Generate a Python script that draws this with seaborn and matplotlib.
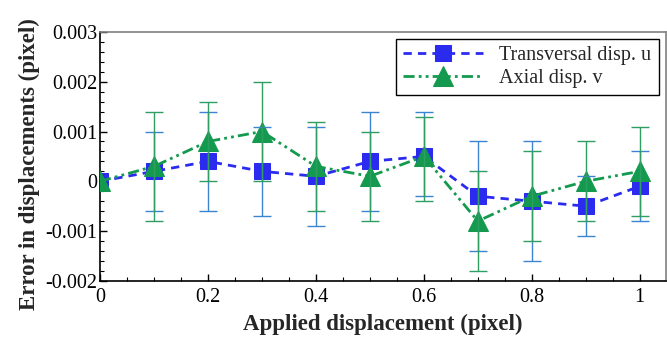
import numpy as np
import pandas as pd
import matplotlib
matplotlib.use("Agg")
import matplotlib.pyplot as plt
import seaborn as sns
from matplotlib.ticker import MultipleLocator, FuncFormatter

# ---- data ----
disp = [0.0, 0.1, 0.2, 0.3, 0.4, 0.5, 0.6, 0.7, 0.8, 0.9, 1.0]
u_err = [0.0, 0.0002, 0.0004, 0.0002, 0.0001, 0.0004, 0.0005, -0.0003, -0.0004, -0.0005, -0.0001]
u_low = [0.0, -0.0006, -0.0006, -0.0007, -0.0009, -0.0006, -0.0003, -0.0014, -0.0016, -0.0011, -0.0008]
u_high = [0.0, 0.0010, 0.0014, 0.0011, 0.0011, 0.0014, 0.0014, 0.0008, 0.0008, 0.0001, 0.0006]
v_err = [0.0, 0.0003, 0.0008, 0.0010, 0.0003, 0.0001, 0.0005, -0.0008, -0.0003, 0.0000, 0.0002]
v_low = [0.0, -0.0008, 0.0000, 0.0000, -0.0006, -0.0008, -0.0004, -0.0018, -0.0012, -0.0008, -0.0007]
v_high = [0.0, 0.0014, 0.0016, 0.0020, 0.0012, 0.0010, 0.0013, 0.0002, 0.0006, 0.0008, 0.0011]
series_names = ["Transversal disp. u", "Axial disp. v"]
xticks = [0, 0.2, 0.4, 0.6, 0.8, 1.0]
yticks = [-0.002, -0.001, 0, 0.001, 0.002, 0.003]

sns.set_theme(style="white")
plt.rcParams['font.family'] = ['Liberation Serif', 'DejaVu Serif']
plt.rcParams['mathtext.default'] = 'regular'

fig = plt.figure(figsize=(6.67, 3.40), dpi=100)
ax = fig.add_axes([0.150, 0.174, 0.848, 0.732])

blue = "#2b2bf0"
green = "#139a4e"
blue_eb = "#3a84d0"
green_eb = "#2e9e62"

df = pd.DataFrame({
    "x": disp + disp,
    "y": u_err + v_err,
    "series": [series_names[0]] * len(disp) + [series_names[1]] * len(disp),
})

sns.lineplot(data=df[df.series == series_names[0]], x="x", y="y", ax=ax,
             color=blue, lw=2, dashes=False, marker="s", markersize=12,
             markeredgecolor=blue, label=series_names[0], zorder=3)
sns.lineplot(data=df[df.series == series_names[1]], x="x", y="y", ax=ax,
             color=green, lw=2, dashes=False, marker="^", markersize=14,
             markeredgecolor=green, label=series_names[1], zorder=3)
lines = ax.get_lines()
lines[0].set_linestyle((0, (3, 2.2)))
lines[1].set_linestyle((0, (4, 1.5, 1, 1.5, 1, 1.5)))

# error bars
u_e = np.array([np.array(u_err) - np.array(u_low), np.array(u_high) - np.array(u_err)])
v_e = np.array([np.array(v_err) - np.array(v_low), np.array(v_high) - np.array(v_err)])
mask = np.array(disp) > 0
ax.errorbar(np.array(disp)[mask], np.array(u_err)[mask], yerr=u_e[:, mask], fmt="none",
            ecolor=blue_eb, elinewidth=1, capsize=6.5, capthick=1, zorder=4)
ax.errorbar(np.array(disp)[mask], np.array(v_err)[mask], yerr=v_e[:, mask], fmt="none",
            ecolor=green_eb, elinewidth=1, capsize=6.5, capthick=1, zorder=4)

ax.set_xlim(0, 1.048)
ax.set_ylim(-0.002, 0.003)
ax.set_xticks(xticks)
ax.set_yticks(yticks)
ax.xaxis.set_minor_locator(MultipleLocator(0.05))
ax.yaxis.set_minor_locator(MultipleLocator(0.0002))

def xfmt(v, p):
    if abs(v) < 1e-9:
        return "0"
    if abs(v - 1) < 1e-9:
        return "1"
    return f"{v:.1f}"

def yfmt(v, p):
    if abs(v) < 1e-12:
        return "0"
    s = f"{v:.3f}"
    return s.replace("\u2212", "-")

ax.xaxis.set_major_formatter(FuncFormatter(xfmt))
ax.yaxis.set_major_formatter(FuncFormatter(yfmt))
ax.tick_params(axis="both", which="both", direction="in", labelsize=14.5,
               colors="black", left=True, bottom=True)
ax.tick_params(which="major", length=5, width=1)
ax.tick_params(which="minor", length=3, width=0.8)
ax.tick_params(axis="x", pad=5)
ax.tick_params(axis="y", pad=2)

for s in ["left", "bottom"]:
    ax.spines[s].set_color("black")
    ax.spines[s].set_linewidth(1.2)
for s in ["top", "right"]:
    ax.spines[s].set_color("#808080")
    ax.spines[s].set_linewidth(1.2)

ax.set_xlabel("Applied displacement (pixel)", fontsize=16.5, fontweight="bold", labelpad=5)
ax.set_ylabel("Error in displacements (pixel)", fontsize=16.5, fontweight="bold", labelpad=3)
ax.yaxis.set_label_coords(-0.107, 0.47)

leg = ax.legend(loc="upper right", fontsize=14.5, frameon=True, fancybox=False,
                edgecolor="black", framealpha=1, handlelength=4.0, borderpad=0.35,
                labelspacing=0.2, handletextpad=0.8, borderaxespad=0.35)
leg.get_frame().set_linewidth(1)

fig.savefig("out.png", dpi=100)
